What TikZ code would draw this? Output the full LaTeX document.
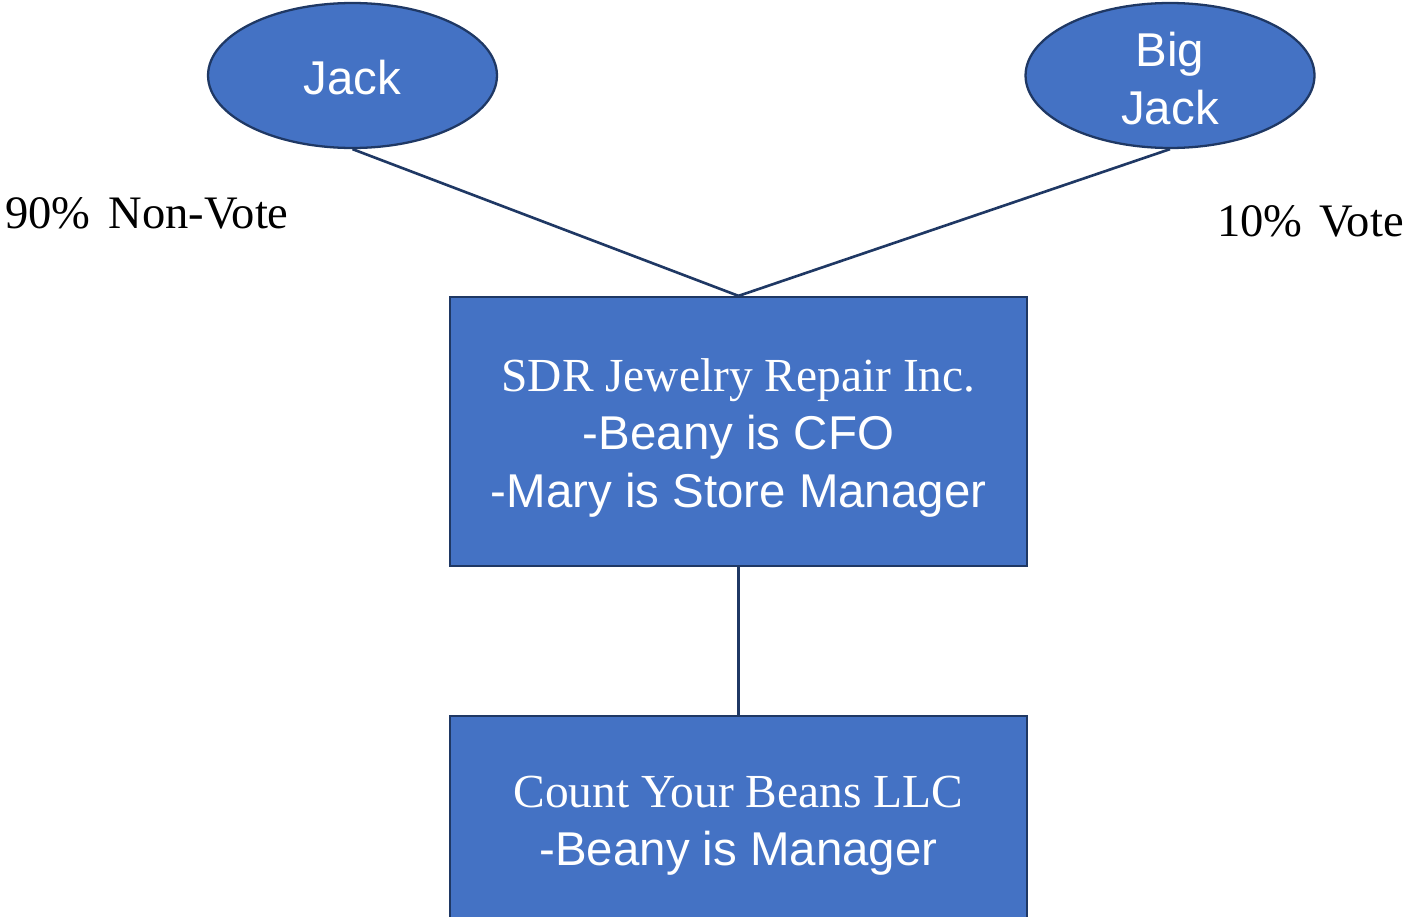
\documentclass[tikz,border=0pt]{standalone}
\usepackage{fontspec}
\setmainfont{Liberation Serif}
\setsansfont{Liberation Sans}
\usetikzlibrary{shapes.geometric}

\definecolor{boxblue}{HTML}{4472C4}
\definecolor{edgenavy}{HTML}{1F3864}

\tikzset{
    owner/.style={ellipse, draw=edgenavy, line width=1.3pt, fill=boxblue,
        text=white, minimum width=5.78cm, minimum height=2.9cm, inner sep=0pt,
        align=center, font=\sffamily\fontsize{27}{33}\selectfont},
    company/.style={rectangle, draw=edgenavy, line width=1.3pt, fill=boxblue,
        text=white, minimum width=11.54cm, inner sep=0pt,
        align=center, font=\sffamily\fontsize{27}{33}\selectfont},
    share/.style={inner sep=0pt, font=\rmfamily\fontsize{26.5}{32}\selectfont},
    link/.style={draw=edgenavy, line width=1.5pt}
}

\begin{document}
\begin{tikzpicture}[x=0.02cm, y=-0.02cm]

    % Page
    \useasboundingbox (0,0) rectangle (1408,916);
    \clip (0,0) rectangle (1408,916);

    % Owners
    \node[owner] (jack) at (352.5,75.5) {\rule{0pt}{22pt}Jack};
    \node[owner] (bigjack) at (1170,75.5) {\rule{0pt}{23pt}Big\\Jack};

    % Companies
    \node[company, minimum height=5.38cm] (sdr) at (738.5,431.5)
        {\rule{0pt}{26pt}{\rmfamily SDR Jewelry Repair Inc.}\\-Beany is CFO\\-Mary is Store Manager};
    \node[company, minimum height=4.2cm] (beans) at (738.5,821)
        {\rule{0pt}{23.5pt}{\rmfamily Count Your Beans LLC}\\-Beany is Manager};

    % Ownership lines
    \draw[link] (jack.south) -- (sdr.north);
    \draw[link] (bigjack.south) -- (sdr.north);
    \draw[link] (sdr.south) -- (beans.north);

    % Share labels
    \node[share, anchor=base west] (nonvote) at (5,228) {90\%\hspace{0.38em}Non-Vote};
    \node[share, anchor=base east] (vote) at (1404,236) {10\%\hspace{0.36em}Vote};

\end{tikzpicture}
\end{document}
